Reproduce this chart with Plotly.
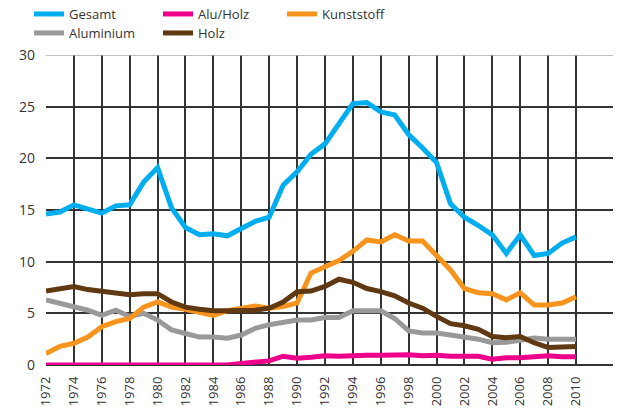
import plotly.graph_objects as go

years = list(range(1972, 2011))

gesamt = [14.6, 14.8, 15.5, 15.1, 14.7, 15.4, 15.5, 17.7, 19.1, 15.2,
          13.3, 12.6, 12.7, 12.5, 13.2, 13.9, 14.3, 17.4, 18.7, 20.4,
          21.4, 23.4, 25.3, 25.4, 24.5, 24.2, 22.3, 21.0, 19.6, 15.6,
          14.3, 13.5, 12.6, 10.8, 12.6, 10.6, 10.8, 11.8, 12.4]

alu_holz = [0, 0, 0, 0, 0, 0, 0, 0, 0, 0,
            0, 0, 0, 0, 0.15, 0.3, 0.4, 0.85, 0.65, 0.75,
            0.9, 0.85, 0.95, 0.95, 0.95, 1.0, 1.0, 0.9, 0.95, 0.85,
            0.85, 0.85, 0.55, 0.7, 0.7, 0.8, 0.9, 0.8, 0.8]

kunststoff = [1.1, 1.8, 2.1, 2.7, 3.7, 4.2, 4.5, 5.6, 6.1, 5.6,
              5.4, 5.1, 4.8, 5.25, 5.5, 5.7, 5.5, 5.65, 6.0, 8.9,
              9.5, 10.1, 11.0, 12.1, 11.9, 12.6, 12.0, 12.0, 10.6, 9.2,
              7.4, 7.0, 6.9, 6.3, 7.0, 5.8, 5.8, 6.0, 6.6]

aluminium = [6.3, 6.0, 5.7, 5.3, 4.8, 5.3, 4.7, 5.0, 4.35, 3.4,
             3.05, 2.7, 2.7, 2.6, 2.9, 3.55, 3.9, 4.1, 4.35, 4.35,
             4.6, 4.6, 5.25, 5.25, 5.25, 4.5, 3.3, 3.1, 3.1, 2.9,
             2.75, 2.5, 2.15, 2.2, 2.4, 2.6, 2.5, 2.5, 2.5]

holz = [7.15, 7.4, 7.6, 7.3, 7.1, 6.9, 6.8, 6.9, 6.9, 6.1,
        5.6, 5.4, 5.25, 5.25, 5.25, 5.3, 5.5, 6.1, 7.1, 7.15,
        7.6, 8.3, 8.0, 7.4, 7.1, 6.7, 6.0, 5.5, 4.7, 4.0,
        3.8, 3.45, 2.75, 2.65, 2.75, 2.15, 1.7, 1.8, 1.8]

x_ticks = list(range(1972, 2011, 2))
y_ticks = [0, 5, 10, 15, 20, 25, 30]

C_GESAMT = "#00AEEF"
C_ALUHOLZ = "#EC008C"
C_KUNST = "#F7941D"
C_ALU = "#999999"
C_HOLZ = "#603913"

W, H = 618, 416

fig = go.Figure()
fig.add_trace(go.Scatter(x=years, y=aluminium, name="Aluminium", mode="lines",
                         line=dict(color=C_ALU, width=5), legend="legend4"))
fig.add_trace(go.Scatter(x=years, y=kunststoff, name="Kunststoff", mode="lines",
                         line=dict(color=C_KUNST, width=5), legend="legend3"))
fig.add_trace(go.Scatter(x=years, y=holz, name="Holz", mode="lines",
                         line=dict(color=C_HOLZ, width=5), legend="legend5"))
fig.add_trace(go.Scatter(x=years, y=alu_holz, name="Alu/Holz", mode="lines",
                         line=dict(color=C_ALUHOLZ, width=5), legend="legend2"))
fig.add_trace(go.Scatter(x=years, y=gesamt, name="Gesamt", mode="lines",
                         line=dict(color=C_GESAMT, width=5), legend="legend"))

legend_common = dict(orientation="h", xref="container", yref="container",
                     xanchor="left", yanchor="middle",
                     font=dict(family="Open Sans", size=13, color="#333333"),
                     bgcolor="rgba(0,0,0,0)", itemclick=False)

col_x = [29 / W, 158 / W, 282 / W]
row_y = [1 - 14 / H, 1 - 33 / H]

fig.update_layout(
    width=W, height=H,
    margin=dict(l=46, r=5, t=55, b=51, autoexpand=False),
    paper_bgcolor="white", plot_bgcolor="white",
    font=dict(family="Open Sans", size=14, color="#333333"),
    legend=dict(x=col_x[0], y=row_y[0], **legend_common),
    legend2=dict(x=col_x[1], y=row_y[0], **legend_common),
    legend3=dict(x=col_x[2], y=row_y[0], **legend_common),
    legend4=dict(x=col_x[0], y=row_y[1], **legend_common),
    legend5=dict(x=col_x[1], y=row_y[1], **legend_common),
    xaxis=dict(range=[1972, 2012.65], tickvals=x_ticks, tickangle=-90,
               showgrid=True, gridcolor="#333333", gridwidth=1.5,
               zeroline=False, showline=False, ticks="", automargin=False,
               tickfont=dict(family="Open Sans", size=13, color="#333333"),
               ticklabelstandoff=8),
    yaxis=dict(range=[0, 30], tickvals=y_ticks,
               showgrid=True, gridcolor="#333333", gridwidth=1.5,
               zeroline=True, zerolinecolor="#333333", zerolinewidth=1.5,
               showline=False, ticks="", automargin=False,
               tickfont=dict(family="Open Sans", size=14, color="#333333"),
               ticklabelstandoff=10),
    showlegend=True,
)

fig.add_shape(type="line", xref="paper", yref="y", x0=0, x1=1, y0=30, y1=30,
              line=dict(color="#aaaaaa", width=1.5), layer="above")

fig.write_html("out.html", config={"displayModeBar": False},
               post_script="document.body.style.margin='0px';")
